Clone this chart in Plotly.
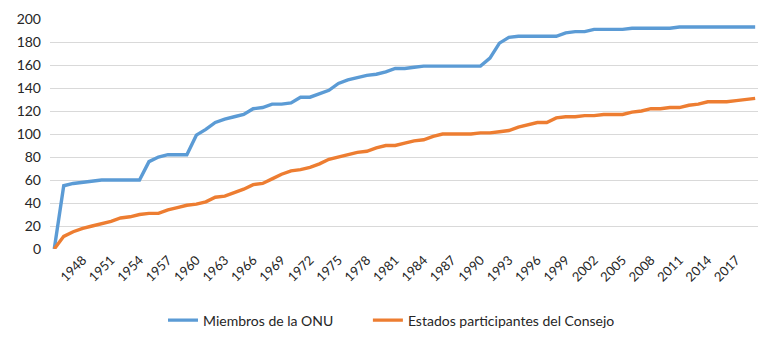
import plotly.graph_objects as go

years = list(range(1945, 2020))

miembros_onu = [
    0, 55, 57, 58, 59, 60, 60, 60, 60, 60,
    76, 80, 82, 82, 82, 99, 104, 110, 113, 115,
    117, 122, 123, 126, 126, 127, 132, 132, 135, 138,
    144, 147, 149, 151, 152, 154, 157, 157, 158, 159,
    159, 159, 159, 159, 159, 159, 166, 179, 184, 185,
    185, 185, 185, 185, 188, 189, 189, 191, 191, 191,
    191, 192, 192, 192, 192, 192, 193, 193, 193, 193,
    193, 193, 193, 193, 193,
]

estados_consejo = [
    0, 11, 15, 18, 20, 22, 24, 27, 28, 30,
    31, 31, 34, 36, 38, 39, 41, 45, 46, 49,
    52, 56, 57, 61, 65, 68, 69, 71, 74, 78,
    80, 82, 84, 85, 88, 90, 90, 92, 94, 95,
    98, 100, 100, 100, 100, 101, 101, 102, 103, 106,
    108, 110, 110, 114, 115, 115, 116, 116, 117, 117,
    117, 119, 120, 122, 122, 123, 123, 125, 126, 128,
    128, 128, 129, 130, 131,
]

tick_years = list(range(1948, 2018, 3))
y_ticks = list(range(0, 201, 20))

series_names = ["Miembros de la ONU", "Estados participantes del Consejo"]
colors = ["#5b9bd5", "#ed7d31"]
legend_ids = ["legend", "legend2"]

FONT = "Lato, Liberation Sans, Arial, sans-serif"

fig = go.Figure()
for name, vals, col, lg in zip(series_names, [miembros_onu, estados_consejo], colors, legend_ids):
    fig.add_trace(go.Scatter(
        x=years, y=vals, mode="lines", name=name, legend=lg,
        line=dict(color=col, width=3.4),
    ))

legend_common = dict(
    orientation="h", yanchor="middle", y=-0.311, xanchor="left",
    font=dict(family=FONT, size=14, color="#262626"),
    itemwidth=30, bgcolor="rgba(0,0,0,0)",
)

fig.update_layout(
    width=774, height=340,
    margin=dict(l=42, r=24, t=11, b=99, autoexpand=False),
    paper_bgcolor="white", plot_bgcolor="white",
    font=dict(family=FONT, size=14, color="#262626"),
    showlegend=True,
    legend=dict(legend_common, x=0.1596),
    legend2=dict(legend_common, x=0.449),
    xaxis=dict(
        range=[1944.55, 2019.3],
        tickmode="array", tickvals=tick_years,
        ticktext=[str(y) for y in tick_years],
        tickangle=-45, showgrid=False, zeroline=False,
        showline=False, ticks="", automargin=False,
        tickfont=dict(family=FONT, size=13, color="#262626"),
    ),
    yaxis=dict(
        range=[0, 200], tickmode="array", tickvals=y_ticks,
        showgrid=True, gridcolor="#d9d9d9", gridwidth=1,
        zeroline=False, showline=False, ticks="", automargin=False,
        ticklabelstandoff=8,
        tickfont=dict(family=FONT, size=14, color="#262626"),
    ),
)

fig.write_html("out.html")
